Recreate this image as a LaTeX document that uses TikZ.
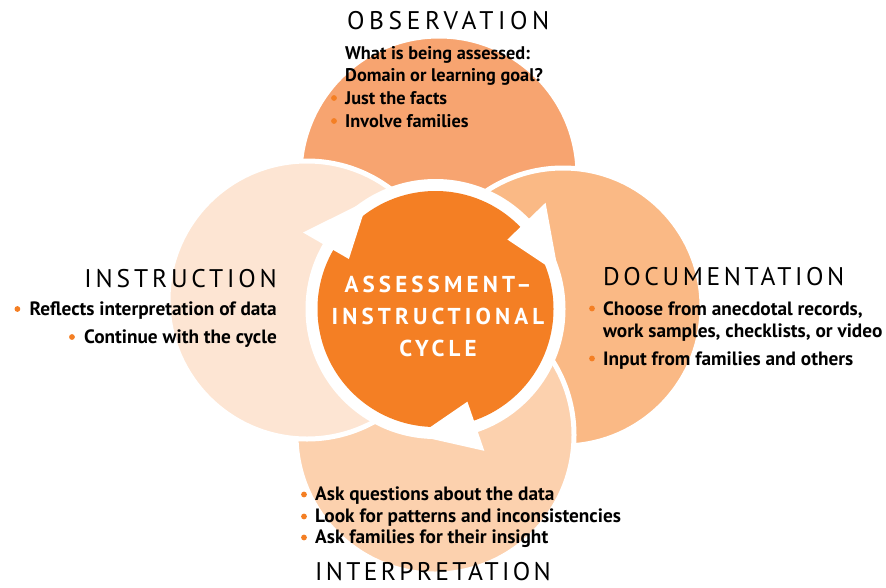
\documentclass[tikz,border=0pt]{standalone}
\usepackage{fontspec}
\usetikzlibrary{calc}
\setmainfont{PT Sans}
\newfontfamily\titlefont{PT Sans}
\newfontfamily\centerfont[LetterSpace=18]{PT Sans Bold}
\definecolor{cTop}{HTML}{F7A470}
\definecolor{cRight}{HTML}{FAB985}
\definecolor{cBottom}{HTML}{FCD1AE}
\definecolor{cLeft}{HTML}{FDE5D3}
\definecolor{cOrange}{HTML}{F47F24}
\newcommand{\ls}[1]{\addfontfeature{LetterSpace=#1}}
\tikzset{
  petal/.style={draw=white, line width=5pt},
  title/.style={font=\titlefont\fontsize{25.5}{28}\selectfont, text=black, inner sep=0pt},
  body/.style={font=\bfseries\fontsize{19.3}{22}\selectfont, text=black, inner sep=0pt},
  obody/.style={font=\bfseries\fontsize{18.3}{22}\selectfont, text=black, inner sep=0pt},
  bdot/.style={circle, fill=cOrange, minimum size=5.8pt, inner sep=0pt},
  ctext/.style={font=\centerfont\fontsize{23}{26}\selectfont, text=white, inner sep=0pt, anchor=base},
  arrowhead/.style={fill=white}
}
\begin{document}
\begin{tikzpicture}[x=1pt,y=-1pt]
\useasboundingbox (0,0) rectangle (886,587);
% petals
\fill[cTop, petal] (439,175) circle[radius=139pt];
\fill[cRight, petal] (563,307) circle[radius=139pt];
\fill[cBottom, petal] (435,435) circle[radius=139pt];
\fill[cLeft, petal] (307,300) circle[radius=139pt];
% centre
\coordinate (C) at (435.5,309);
\fill[white] (C) circle[radius=130pt];
\fill[cOrange] (C) circle[radius=118pt];
% arrowheads (screen angle = - math angle)
\fill[arrowhead] ([shift={(-150:153)}]C) -- ([shift={(-150:100)}]C) -- ([shift={(-122:128)}]C) -- cycle;
\fill[arrowhead] ([shift={(-44:153)}]C) -- ([shift={(-44:100)}]C) -- ([shift={(-16:128)}]C) -- cycle;
\fill[arrowhead] ([shift={(71:150)}]C) -- ([shift={(71:98)}]C) -- ([shift={(98:128)}]C) -- cycle;
% centre text
\node[ctext] (c1) at (438,292) {ASSESSMENT–};
\node[ctext] (c2) at (438,324) {INSTRUCTIONAL};
\node[ctext] (c3) at (438,356) {CYCLE};
% observation
\node[title, anchor=base west] (obs) at (347,29) {\ls{18}OBSERVATION};
\node[obody, anchor=base west] (o1) at (345,59) {What is being assessed:};
\node[obody, anchor=base west] (o2) at (345,81) {Domain or learning goal?};
\node[obody, anchor=base west] (o3) at (345,104) {Just the facts};
\node[obody, anchor=base west] (o4) at (345,127) {Involve families};
\node[bdot] (o3b) at ($(o3.base west)+(-11,-6)$) {};
\node[bdot] (o4b) at ($(o4.base west)+(-11,-6)$) {};
% documentation
\node[title, anchor=base west] (doc) at (603,285) {\ls{14}DOCUMENTATION};
\node[body, anchor=base west] (d1) at (603,315) {Choose from anecdotal records,};
\node[body, anchor=base west] (d2) at (603,337) {work samples, checklists, or video};
\node[body, anchor=base west] (d3) at (603,365) {Input from families and others};
\node[bdot] (d1b) at ($(d1.base west)+(-11,-6.5)$) {};
\node[bdot] (d3b) at ($(d3.base west)+(-11,-6.5)$) {};
% instruction
\node[title, anchor=base east] (ins) at (277,287) {\ls{15}INSTRUCTION};
\node[body, anchor=base east] (i1) at (277,315) {Reflects interpretation of data};
\node[body, anchor=base east] (i2) at (277,343) {Continue with the cycle};
\node[bdot] (i1b) at ($(i1.base west)+(-12,-6)$) {};
\node[bdot] (i2b) at ($(i2.base west)+(-12,-6)$) {};
% interpretation
\node[body, anchor=base west] (p1) at (315,500) {Ask questions about the data};
\node[body, anchor=base west] (p2) at (315,522) {Look for patterns and inconsistencies};
\node[body, anchor=base west] (p3) at (315,543) {Ask families for their insight};
\node[bdot] (p1b) at ($(p1.base west)+(-11,-5.5)$) {};
\node[bdot] (p2b) at ($(p2.base west)+(-11,-5.5)$) {};
\node[bdot] (p3b) at ($(p3.base west)+(-11,-5.5)$) {};
\node[title, anchor=base west] (int) at (315,580) {\ls{13}INTERPRETATION};
\end{tikzpicture}
\end{document}
